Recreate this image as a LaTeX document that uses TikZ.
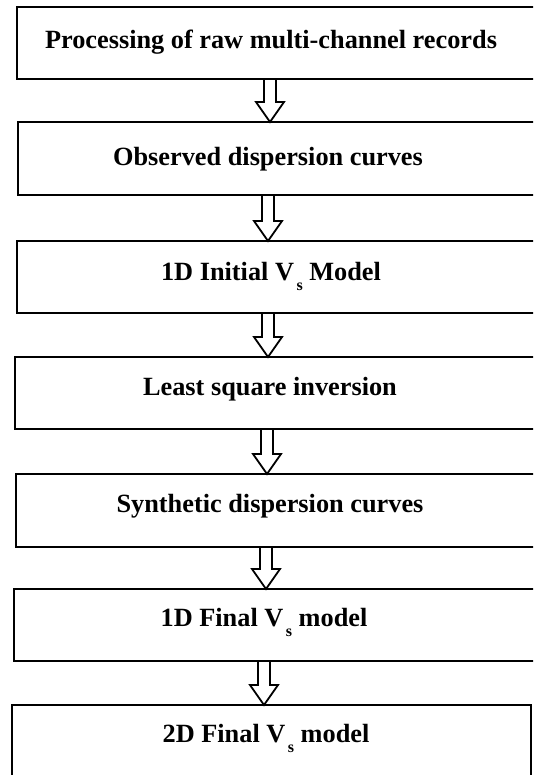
\documentclass[tikz,border=0pt]{standalone}
\usepackage{fontspec}
\setmainfont{Liberation Serif}
\usetikzlibrary{calc}
\newcommand\vsub{\hspace{2.5pt}\raisebox{-10pt}{\fontsize{16}{16}\selectfont s}}
\newcommand\blockarr[3]{%
  \draw[barrow] let \p1=(#1.south -| #3), \p2=(#2.north -| #3) in
  (\x1-6pt,\y1) -- (\x1+6pt,\y1) -- (\x1+6pt,\y2+20pt) -- (\x1+14pt,\y2+20pt)
  -- (\x1,\y2) -- (\x1-14pt,\y2+20pt) -- (\x1-6pt,\y2+20pt) -- cycle;}
\begin{document}
\begin{tikzpicture}[x=1pt,y=-1pt,
  box/.style={draw, line width=2pt, rectangle, inner sep=0pt, outer sep=0pt, anchor=north west},
  lbl/.style={font=\fontsize{26.3}{30}\selectfont\bfseries, anchor=base, inner sep=0pt},
  barrow/.style={draw, line width=1.8pt, fill=white, line join=miter}]
\useasboundingbox (0,0) rectangle (533,775);
\clip (0,0) rectangle (533,775);
% boxes
\node[box, minimum width=543pt, minimum height=72pt] (b1) at (17,7) {};
\node[box, minimum width=542pt, minimum height=73pt] (b2) at (18,122) {};
\node[box, minimum width=543pt, minimum height=72pt] (b3) at (17,241) {};
\node[box, minimum width=545pt, minimum height=72pt] (b4) at (15,357) {};
\node[box, minimum width=544pt, minimum height=73pt] (b5) at (16,474) {};
\node[box, minimum width=546pt, minimum height=72pt] (b6) at (14,589) {};
\node[box, minimum width=519pt, minimum height=100pt] (b7) at (12,705) {};
% labels
\node[lbl] (t1) at (271,49) {Processing of raw multi-channel records};
\node[lbl] (t2) at (268,166) {Observed dispersion curves};
\node[lbl] (t3) at (271,280) {1D Initial V\vsub{} Model};
\node[lbl] (t4) at (270,395) {Least square inversion};
\node[lbl] (t5) at (270,512) {Synthetic dispersion curves};
\node[lbl] (t6) at (264,626) {1D Final V\vsub{} model};
\node[lbl] (t7) at (266,742) {2D Final V\vsub{} model};
% arrow axes
\coordinate (c1) at (270,0);
\coordinate (c2) at (268,0);
\coordinate (c3) at (268,0);
\coordinate (c4) at (267,0);
\coordinate (c5) at (266,0);
\coordinate (c6) at (264,0);
\blockarr{b1}{b2}{c1}
\blockarr{b2}{b3}{c2}
\blockarr{b3}{b4}{c3}
\blockarr{b4}{b5}{c4}
\blockarr{b5}{b6}{c5}
\blockarr{b6}{b7}{c6}
\end{tikzpicture}
\end{document}
